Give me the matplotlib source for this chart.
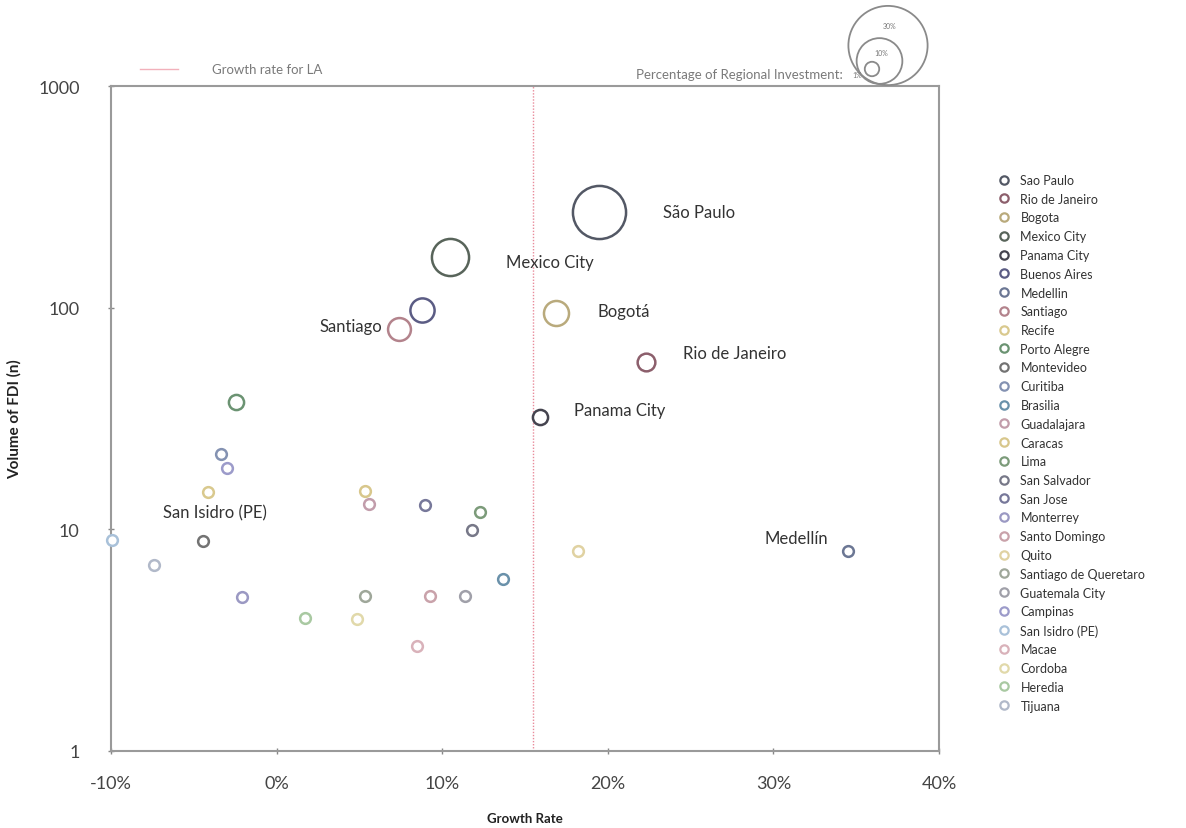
import matplotlib.pyplot as plt
from matplotlib.lines import Line2D
from matplotlib.ticker import FixedLocator, FuncFormatter, NullLocator

plt.rcParams['font.family'] = ['Lato', 'DejaVu Sans']

# series, in legend order
cities = ['Sao Paulo', 'Rio de Janeiro', 'Bogota', 'Mexico City', 'Panama City',
          'Buenos Aires', 'Medellin', 'Santiago', 'Recife', 'Porto Alegre',
          'Montevideo', 'Curitiba', 'Brasilia', 'Guadalajara', 'Caracas', 'Lima',
          'San Salvador', 'San Jose', 'Monterrey', 'Santo Domingo', 'Quito',
          'Santiago de Queretaro', 'Guatemala City', 'Campinas', 'San Isidro (PE)',
          'Macae', 'Cordoba', 'Heredia', 'Tijuana']
growth = [19.45, 22.3, 16.9, 10.45, 15.9,
          8.8, 34.5, 7.4, -4.16, -2.47,
          -4.43, -3.34, 13.7, 5.6, 5.34, 12.26,
          11.78, 8.96, -2.07, 9.26, 18.2,
          5.34, 11.4, -3.01, -9.92,
          8.5, 4.83, 1.71, -7.4]
fdi_volume = [270, 57, 95, 170, 32,
              98, 8.0, 80, 14.8, 37.6,
              8.9, 21.8, 6.0, 13.0, 14.9, 12.0,
              9.9, 12.9, 4.95, 5.0, 8.0,
              5.0, 5.0, 18.9, 8.95,
              2.97, 3.95, 3.97, 6.9]
investment_share = [13.5, 1.5, 3.0, 6.6, 1.1,
                    2.8, 0.55, 2.5, 0.55, 1.1,
                    0.55, 0.55, 0.55, 0.55, 0.55, 0.55,
                    0.55, 0.55, 0.55, 0.55, 0.55,
                    0.55, 0.55, 0.55, 0.55,
                    0.55, 0.55, 0.55, 0.55]
colors = ['#535865', '#8c5f6c', '#b9aa7c', '#58645a', '#45444f',
          '#5b5c84', '#6c7794', '#b3838c', '#d9c98e', '#6b9372',
          '#737373', '#8492b2', '#6a91aa', '#c29dab', '#d8c78c', '#7c9b7a',
          '#777888', '#77789a', '#9b99c3', '#c9a2aa', '#e0d2a2',
          '#9fa79a', '#a0a0a9', '#9c9bca', '#a9c1d9',
          '#d9b2ba', '#e1d9aa', '#a9c9a2', '#b1b9c9']

callouts = {'Sao Paulo': ('São Paulo', 64, 0, 'left'),
            'Mexico City': ('Mexico City', 56, -5, 'left'),
            'Santiago': ('Santiago', -17, 3, 'right'),
            'Bogota': ('Bogotá', 41, 2, 'left'),
            'Rio de Janeiro': ('Rio de Janeiro', 37, 9, 'left'),
            'Panama City': ('Panama City', 34, 7, 'left'),
            'Medellin': ('Medellín', -20, 13, 'right'),
            'San Isidro (PE)': ('San Isidro (PE)', 51, 28, 'left')}

la_growth = 15.5
size_key = [30, 10, 1]
size_key_labels = ['30%', '10%', '1%']

x_ticks = [-10, 0, 10, 20, 30, 40]
y_ticks = [1, 10, 100, 1000]

W, H = 1186, 829
S_PER_PCT = 108.4  # marker area (pt^2) for 1% of regional investment

fig = plt.figure(figsize=(W / 100, H / 100), dpi=100)
ax = fig.add_axes([111 / W, 77 / H, 828 / W, 665 / H])

for name, gx, fv, share, col in zip(cities, growth, fdi_volume, investment_share, colors):
    ax.scatter(gx, fv, s=share * S_PER_PCT, facecolors='white', edgecolors=col,
               linewidths=1.8, zorder=3, clip_on=False)
    if name in callouts:
        txt, dx, dy, ha = callouts[name]
        ax.annotate(txt, (gx, fv), xytext=(dx, dy), textcoords='offset pixels',
                    ha=ha, va='center', fontsize=12, color='#333333', zorder=4)

ax.axvline(la_growth, color='#e98b9b', lw=1, ls=(0, (1, 1.2)), zorder=2)

ax.set_yscale('log')
ax.set_xlim(-10, 40)
ax.set_ylim(1, 1000)
ax.xaxis.set_major_locator(FixedLocator(x_ticks))
ax.xaxis.set_major_formatter(FuncFormatter(lambda v, p: f'{v:.0f}%'))
ax.yaxis.set_major_locator(FixedLocator(y_ticks))
ax.yaxis.set_major_formatter(FuncFormatter(lambda v, p: f'{v:.0f}'))
ax.yaxis.set_minor_locator(NullLocator())
ax.tick_params(direction='inout', length=5, width=1, color='#888888',
               labelcolor='#444444', labelsize=13)
ax.tick_params(axis='x', pad=15)
ax.tick_params(axis='y', pad=20)
for sp in ax.spines.values():
    sp.set_color('#9a9a9a')
    sp.set_linewidth(1.5)

ax.set_xlabel('Growth Rate', fontsize=9.5, fontweight='bold', color='#222222', labelpad=15)
ax.set_ylabel('Volume of FDI (n)', fontsize=11, fontweight='bold', color='#222222')
ax.yaxis.set_label_coords(-89 / 828, 0.5)

handles = [Line2D([], [], ls='none', marker='o', markersize=6, markerfacecolor='white',
                  markeredgecolor=c, markeredgewidth=1.6) for c in colors]
fig.legend(handles, cities, loc='upper left', bbox_to_anchor=(993 / W, 1 - 170 / H),
           frameon=False, fontsize=9, labelspacing=0.54, handlelength=1.0,
           handletextpad=0.8, borderaxespad=0, labelcolor='#333333')

# top line legend
fig.add_artist(Line2D([140 / W, 178 / W], [1 - 70 / H] * 2, color='#f2b1bb', lw=1))
fig.text(212 / W, 1 - 70 / H, 'Growth rate for LA', fontsize=9.5, color='#7a7a7a', va='center')

# bubble size key, drawn in pixel space on top of the figure
key = fig.add_axes([0, 0, 1, 1], facecolor='none')
key.set_xlim(0, W)
key.set_ylim(H, 0)
key.axis('off')
key_centres = [(888, 46.5), (879.5, 62), (872, 70)]
label_pos = [(890, 26), (881, 53), (857, 75)]
for pct, lab, (cx, cy), (lx, ly) in zip(size_key, size_key_labels, key_centres, label_pos):
    key.scatter(cx, cy, s=pct * S_PER_PCT, facecolors='none', edgecolors='#8a8a8a', linewidths=1.3)
    key.text(lx, ly, lab, fontsize=5, color='#777777', ha='center', va='center')
key.text(843, 75, 'Percentage of Regional Investment:', fontsize=9.5, color='#7a7a7a',
         ha='right', va='center')

fig.savefig('out.png', dpi=100)
